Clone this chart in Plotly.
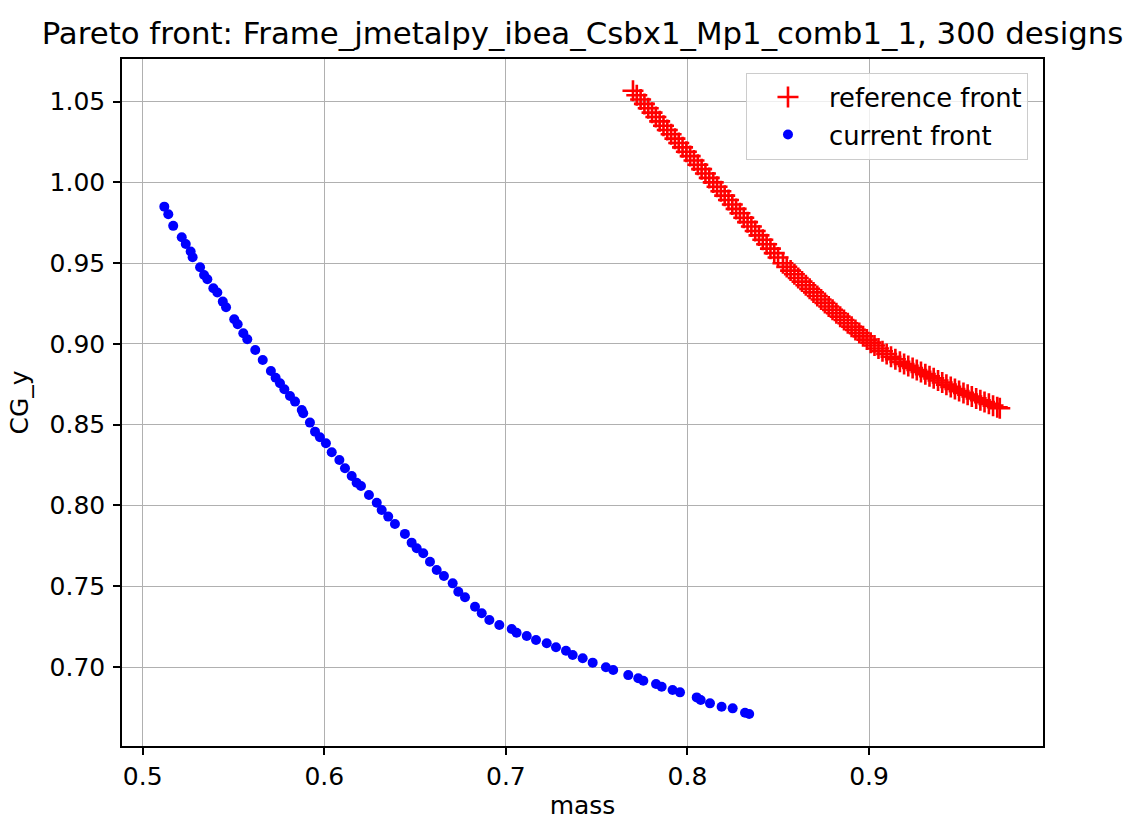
import plotly.graph_objects as go

title_text = "Pareto front: Frame_jmetalpy_ibea_Csbx1_Mp1_comb1_1, 300 designs"
x_label = "mass"
y_label = "CG_y"
ref_name = "reference front"
cur_name = "current front"

x_ticks = [0.5, 0.6, 0.7, 0.8, 0.9]
y_ticks = [0.70, 0.75, 0.80, 0.85, 0.90, 0.95, 1.00, 1.05]

ref_mass = [
    0.7700, 0.7721, 0.7742, 0.7763, 0.7784, 0.7805, 0.7826, 0.7847, 0.7868, 0.7889,
    0.7910, 0.7931, 0.7952, 0.7973, 0.7994, 0.8015, 0.8036, 0.8057, 0.8078, 0.8099,
    0.8120, 0.8142, 0.8163, 0.8184, 0.8205, 0.8226, 0.8247, 0.8268, 0.8289, 0.8310,
    0.8331, 0.8352, 0.8373, 0.8394, 0.8415, 0.8436, 0.8457, 0.8478, 0.8499, 0.8526,
    0.8547, 0.8568, 0.8589, 0.8610, 0.8631, 0.8652, 0.8673, 0.8694, 0.8715, 0.8736,
    0.8757, 0.8778, 0.8799, 0.8820, 0.8841, 0.8862, 0.8883, 0.8904, 0.8925, 0.8946,
    0.8967, 0.8988, 0.9009, 0.9030, 0.9052, 0.9074, 0.9097, 0.9121, 0.9145, 0.9170,
    0.9193, 0.9216, 0.9240, 0.9263, 0.9286, 0.9310, 0.9333, 0.9356, 0.9380, 0.9403,
    0.9426, 0.9450, 0.9473, 0.9496, 0.9520, 0.9543, 0.9566, 0.9590, 0.9613, 0.9636,
    0.9660, 0.9683, 0.9706, 0.9720,
]
ref_cgy = [
    1.0567, 1.0540, 1.0513, 1.0486, 1.0459, 1.0432, 1.0405, 1.0378, 1.0351, 1.0324,
    1.0298, 1.0271, 1.0244, 1.0217, 1.0190, 1.0163, 1.0136, 1.0109, 1.0082, 1.0055,
    1.0028, 1.0000, 0.9973, 0.9945, 0.9918, 0.9891, 0.9863, 0.9836, 0.9809, 0.9781,
    0.9754, 0.9727, 0.9699, 0.9672, 0.9645, 0.9617, 0.9590, 0.9562, 0.9535, 0.9500,
    0.9477, 0.9454, 0.9431, 0.9408, 0.9386, 0.9363, 0.9341, 0.9319, 0.9297, 0.9275,
    0.9254, 0.9232, 0.9211, 0.9190, 0.9169, 0.9148, 0.9128, 0.9107, 0.9087, 0.9067,
    0.9047, 0.9027, 0.9008, 0.8990, 0.8972, 0.8955, 0.8938, 0.8921, 0.8905, 0.8889,
    0.8876, 0.8864, 0.8851, 0.8839, 0.8827, 0.8813, 0.8800, 0.8787, 0.8774, 0.8761,
    0.8748, 0.8734, 0.8721, 0.8708, 0.8697, 0.8686, 0.8675, 0.8663, 0.8651, 0.8640,
    0.8629, 0.8618, 0.8608, 0.8602,
]

cur_mass = [
    0.5119, 0.5141, 0.5168, 0.5215, 0.5237, 0.5264, 0.5275, 0.5316, 0.5338, 0.5356,
    0.5389, 0.5411, 0.5441, 0.5459, 0.5504, 0.5523, 0.5554, 0.5576, 0.5620, 0.5661,
    0.5706, 0.5732, 0.5756, 0.5780, 0.5811, 0.5839, 0.5876, 0.5884, 0.5921, 0.5949,
    0.5976, 0.6009, 0.6041, 0.6083, 0.6114, 0.6151, 0.6178, 0.6202, 0.6246, 0.6289,
    0.6316, 0.6352, 0.6389, 0.6444, 0.6481, 0.6509, 0.6545, 0.6582, 0.6619, 0.6659,
    0.6707, 0.6738, 0.6775, 0.6830, 0.6867, 0.6909, 0.6964, 0.7032, 0.7059, 0.7115,
    0.7166, 0.7225, 0.7276, 0.7331, 0.7368, 0.7423, 0.7478, 0.7551, 0.7591, 0.7674,
    0.7729, 0.7757, 0.7827, 0.7858, 0.7918, 0.7959, 0.8051, 0.8073, 0.8124, 0.8188,
    0.8249, 0.8317, 0.8340,
]
cur_cgy = [
    0.9850, 0.9803, 0.9731, 0.9661, 0.9619, 0.9572, 0.9537, 0.9475, 0.9427, 0.9401,
    0.9345, 0.9318, 0.9262, 0.9227, 0.9153, 0.9122, 0.9066, 0.9029, 0.8963, 0.8901,
    0.8833, 0.8791, 0.8757, 0.8720, 0.8678, 0.8643, 0.8591, 0.8571, 0.8513, 0.8457,
    0.8422, 0.8385, 0.8329, 0.8282, 0.8230, 0.8183, 0.8141, 0.8121, 0.8065, 0.8017,
    0.7972, 0.7931, 0.7885, 0.7824, 0.7770, 0.7735, 0.7704, 0.7652, 0.7601, 0.7563,
    0.7518, 0.7466, 0.7432, 0.7373, 0.7333, 0.7291, 0.7260, 0.7235, 0.7212, 0.7192,
    0.7167, 0.7147, 0.7122, 0.7101, 0.7074, 0.7054, 0.7027, 0.6998, 0.6981, 0.6950,
    0.6930, 0.6915, 0.6895, 0.6878, 0.6858, 0.6843, 0.6812, 0.6796, 0.6775, 0.6754,
    0.6744, 0.6717, 0.6709,
]

x_range = [0.4886, 0.9958]
y_range = [0.6511, 1.0764]

FONT = "DejaVu Sans"
W, H = 1126, 820

fig = go.Figure()
fig.add_trace(go.Scatter(
    x=ref_mass, y=ref_cgy, mode="markers", name=ref_name, legendgroup="ref",
    marker=dict(symbol="cross-thin", size=15, color="#ff0000",
                line=dict(color="#ff0000", width=2.6)),
))
fig.add_trace(go.Scatter(
    x=cur_mass, y=cur_cgy, mode="markers", name=cur_name, legendgroup="cur",
    marker=dict(symbol="circle", size=10, color="#0000ff", line=dict(width=0)),
))

axis_common = dict(
    showgrid=True, gridcolor="#b0b0b0", gridwidth=1.4,
    showline=True, linecolor="black", linewidth=1.5, mirror=True,
    ticks="outside", ticklen=7, tickwidth=1.5, tickcolor="black",
    zeroline=False, automargin=False,
    tickfont=dict(family=FONT, size=25, color="black"),
)

fig.update_layout(
    width=W, height=H,
    margin=dict(l=122, r=83, t=59, b=74, autoexpand=False),
    paper_bgcolor="white", plot_bgcolor="white",
    font=dict(family=FONT, size=25, color="black"),
    title=dict(text=title_text, x=0.5, xref="paper", y=1 - 33 / H,
               yref="container", xanchor="center", yanchor="middle",
               font=dict(family=FONT, size=30.8, color="black")),
    xaxis=dict(range=x_range, tickvals=x_ticks,
               ticktext=[f"{v:.1f}" for v in x_ticks],
               title=dict(text=x_label, font=dict(family=FONT, size=25), standoff=14),
               **axis_common),
    yaxis=dict(range=y_range, tickvals=y_ticks,
               ticktext=[f"{v:.2f}" for v in y_ticks],
               ticklabelstandoff=3,
               title=dict(text=y_label, font=dict(family=FONT, size=25), standoff=14),
               **axis_common),
    legend=dict(x=0.9837, y=0.980, xanchor="right", yanchor="top",
                bgcolor="rgba(255,255,255,0.8)", bordercolor="#cccccc", borderwidth=1,
                font=dict(family=FONT, size=25.8, color="black"),
                itemwidth=72, tracegroupgap=1),
    showlegend=True,
)

fig.write_html("out.html",
               config={"displayModeBar": False},
               post_script="document.body.style.margin='0';document.body.style.overflow='hidden';")
